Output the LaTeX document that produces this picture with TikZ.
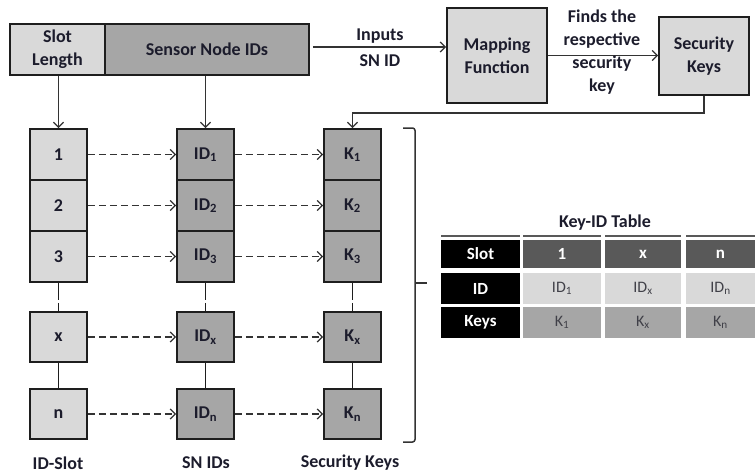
\documentclass[tikz,border=0pt]{standalone}
\usepackage{fontspec}
\setmainfont{Carlito}
\usetikzlibrary{arrows.meta}
\definecolor{lightbox}{HTML}{D9D9D9}
\definecolor{darkbox}{HTML}{A6A6A6}
\definecolor{hdrgray}{HTML}{595959}
\definecolor{edge}{HTML}{1E1E1E}
\definecolor{txt}{HTML}{1C1C2C}
\definecolor{celltxt}{HTML}{404048}
\definecolor{wire}{HTML}{333333}
\begin{document}
\begin{tikzpicture}[x=1pt,y=-1pt,
  font=\fontsize{18}{23}\selectfont\bfseries,
  every node/.style={text=txt},
  box/.style={draw=edge,line width=1.8pt,minimum width=57pt,minimum height=51pt,inner sep=0pt,align=center},
  lbox/.style={box,fill=lightbox},
  dbox/.style={box,fill=darkbox},
  arr/.style={draw=wire,line width=1.3pt,-{Straight Barb[length=5pt,width=10pt,line width=1.3pt]}},
  dasharr/.style={arr,dash pattern=on 7pt off 4pt},
  link/.style={draw=edge,line width=1.6pt},
  cell/.style={inner sep=0pt,font=\fontsize{17}{18}\selectfont\bfseries},
  hcell/.style={cell,fill=black,text=white,minimum width=79pt},
  tcell/.style={cell,fill=hdrgray,text=white},
  icell/.style={cell,fill=lightbox,text=celltxt,font=\fontsize{16}{18}\selectfont},
  kcell/.style={cell,fill=darkbox,text=celltxt,font=\fontsize{16}{18}\selectfont},
  lbl/.style={align=center}
]
\useasboundingbox (0,0) rectangle (756,474);

% top bar: slot length and sensor node ids
\node[lbox,minimum width=95pt] (slot) at (57.5,49.5) {Slot\\Length};
\node[dbox,minimum width=204pt] (snid) at (207,49.5) {Sensor Node IDs};

% mapping function and security keys
\node[lbox,minimum width=100pt,minimum height=95pt] (map) at (497,55.5) {Mapping\\Function};
\node[lbox,minimum width=90pt,minimum height=78pt] (seck) at (704,56) {Security\\Keys};

\coordinate (inp) at ([xshift=3pt,yshift=2.5pt]snid.east);
\draw[arr] (inp) -- (inp -| map.west);
\node[lbl] (inlbl) at (380,36) {Inputs};
\node[lbl] (snlbl) at (380,61) {SN ID};
\draw[arr] (map.east) -- (seck.west |- map.east);
\node[lbl] (findlbl) at (602,52) {Finds the\\respective\\security\\key};

% id-slot column
\node[lbox] (s1) at (58.5,154.5) {1};
\node[lbox] (s2) at (58.5,205.5) {2};
\node[lbox] (s3) at (58.5,256.5) {3};
\node[lbox,minimum height=50pt] (sx) at (58.5,337) {x};
\node[lbox,minimum height=50pt] (sn) at (58.5,414) {n};

% sensor node id column
\node[dbox] (i1) at (205.5,154.5) {ID\textsubscript{1}};
\node[dbox] (i2) at (205.5,205.5) {ID\textsubscript{2}};
\node[dbox] (i3) at (205.5,256.5) {ID\textsubscript{3}};
\node[dbox,minimum height=50pt] (ix) at (205.5,337) {ID\textsubscript{x}};
\node[dbox,minimum height=50pt] (in) at (205.5,414) {ID\textsubscript{n}};

% security key column
\node[dbox] (k1) at (352.5,154.5) {K\textsubscript{1}};
\node[dbox] (k2) at (352.5,205.5) {K\textsubscript{2}};
\node[dbox] (k3) at (352.5,256.5) {K\textsubscript{3}};
\node[dbox,minimum height=50pt] (kx) at (352.5,337) {K\textsubscript{x}};
\node[dbox,minimum height=50pt] (kn) at (352.5,414) {K\textsubscript{n}};

% feeds into the columns
\draw[arr] (s1.north |- slot.south) -- (s1.north);
\draw[arr] (i1.north |- snid.south) -- (i1.north);
\coordinate (fb) at (704,113);
\draw[arr] (seck.south) -- (fb) -| (k1.north);

% column links
\foreach \c in {s,i,k}{
  \draw[link,dash pattern=on 17pt off 3pt on 20pt] (\c3.south) -- (\c x.north);
  \draw[link] (\c x.south) -- (\c n.north);
}

% slot -> id -> key mappings
\foreach \r in {1,2,3,x,n}{
  \draw[dasharr] (s\r.east) -- (i\r.west);
  \draw[dasharr] (i\r.east) -- (k\r.west);
}

% bottom captions
\node (capa) at (58,463) {ID-Slot};
\node (capb) at (206,463) {SN IDs};
\node (capc) at (350,463) {Security Keys};

% bracket
\draw[draw=wire,line width=1.5pt,rounded corners=2.5pt] (403,128) -- (415,128) -- (415,442) -- (403,442);
\draw[draw=wire,line width=1.5pt] (415,283) -- (427,283);

% key-id table
\node (ttl) at (605,223) {Key-ID Table};
\foreach \x/\w in {480.5/79,562/78,643/76,720.5/69}{
  \draw[draw=hdrgray,line width=1.2pt] (\x-\w/2,236) -- (\x+\w/2,236);
}
\node[hcell,minimum height=28pt] (hs) at (480.5,254) {Slot};
\node[hcell,minimum height=31pt] (hi) at (480.5,288.5) {ID};
\node[hcell,minimum height=31pt] (hk) at (480.5,322.5) {Keys};

\node[tcell,minimum width=78pt,minimum height=28pt] (t1) at (562,254) {1};
\node[tcell,minimum width=76pt,minimum height=28pt] (tx) at (643,254) {x};
\node[tcell,minimum width=69pt,minimum height=28pt] (tn) at (720.5,254) {n};

\node[icell,minimum width=78pt,minimum height=31pt] (d1) at (562,288.5) {ID\textsubscript{1}};
\node[icell,minimum width=76pt,minimum height=31pt] (dx) at (643,288.5) {ID\textsubscript{x}};
\node[icell,minimum width=69pt,minimum height=31pt] (dn) at (720.5,288.5) {ID\textsubscript{n}};

\node[kcell,minimum width=78pt,minimum height=31pt] (e1) at (562,322.5) {K\textsubscript{1}};
\node[kcell,minimum width=76pt,minimum height=31pt] (ex) at (643,322.5) {K\textsubscript{x}};
\node[kcell,minimum width=69pt,minimum height=31pt] (en) at (720.5,322.5) {K\textsubscript{n}};
\end{tikzpicture}
\end{document}
